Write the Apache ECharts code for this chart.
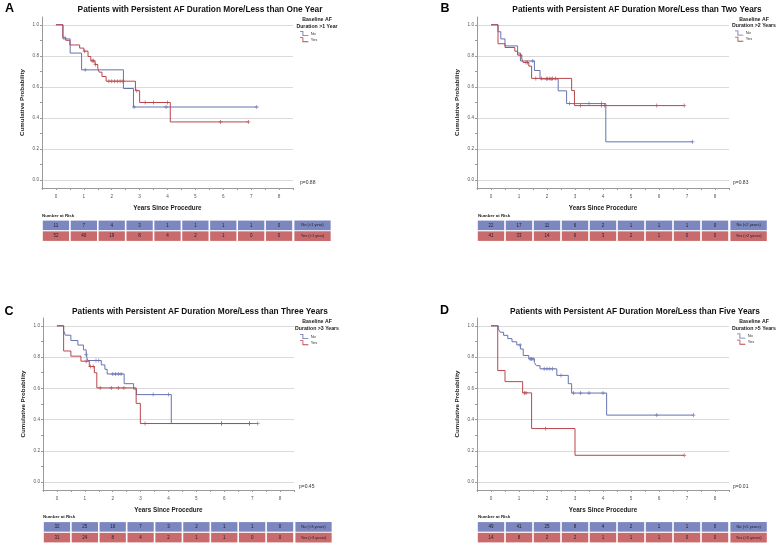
<!DOCTYPE html>
<html><head><meta charset="utf-8">
<script src="https://cdn.jsdelivr.net/npm/echarts@6/dist/echarts.min.js"></script>
<style>html,body{margin:0;padding:0;background:#fff}#c{width:780px;height:555px}</style>
</head><body><div id="c"></div><script>
// ---------- data ----------
const yearTicks = [0, 1, 2, 3, 4, 5, 6, 7, 8];
const probLabels = [0, 0.2, 0.4, 0.6, 0.8, 1.0];
const probMinor = [0.1, 0.3, 0.5, 0.7, 0.9];

const panelLetters = ['A', 'B', 'C', 'D'];
const panelTitles = [
  'Patients with Persistent AF Duration More/Less than One Year',
  'Patients with Persistent AF Duration More/Less than Two Years',
  'Patients with Persistent AF Duration More/Less than Three Years',
  'Patients with Persistent AF Duration More/Less than Five Years'
];
const legendHead1 = 'Baseline AF';
const legendHead2 = ['Duration >1 Year', 'Duration >2 Years', 'Duration >3 Years', 'Duration >5 Years'];
const groupNames = ['No', 'Yes'];
const pValues = ['p=0.88', 'p=0.83', 'p=0.45', 'p=0.01'];
const riskRowNo = ['No (<1 year)', 'No (<2 years)', 'No (<3 years)', 'No (<5 years)'];
const riskRowYes = ['Yes (>1 year)', 'Yes (>2 years)', 'Yes (>3 years)', 'Yes (>5 years)'];

// Panel A
const timeNoA = [0, 0.25, 0.51, 0.92, 2.42, 2.78, 7.2];
const survNoA = [1, 0.909, 0.818, 0.71, 0.59, 0.471, 0.471];
const censNoA = [1.05, 2.8, 3.95, 7.2];
const timeYesA = [0, 0.25, 0.35, 0.5, 0.85, 1.0, 1.15, 1.25, 1.4, 1.5, 1.55, 1.65, 1.8, 2.85, 3.0, 4.1, 6.9];
const survYesA = [1, 0.92, 0.90, 0.87, 0.85, 0.83, 0.796, 0.768, 0.745, 0.72, 0.695, 0.667, 0.637, 0.576, 0.50, 0.375, 0.375];
const censYesA = [1.03, 1.3, 1.35, 1.42, 1.9, 2.0, 2.1, 2.2, 2.3, 2.4, 2.9, 3.2, 3.5, 4.0, 5.9, 6.9];
const riskNoA = [11, 7, 4, 3, 1, 1, 1, 1, 0];
const riskYesA = [52, 40, 19, 8, 4, 2, 1, 0, 0];

// Panel B
const timeNoB = [0, 0.25, 0.35, 0.5, 0.95, 1.05, 1.55, 1.75, 2.4, 2.7, 4.1, 7.2];
const survNoB = [1, 0.955, 0.909, 0.864, 0.818, 0.767, 0.706, 0.651, 0.575, 0.493, 0.247, 0.247];
const censNoB = [1.49, 2.0, 2.15, 2.8, 3.5, 3.95, 7.2];
const timeYesB = [0, 0.25, 0.5, 0.85, 0.95, 1.1, 1.15, 1.35, 1.45, 2.88, 2.98, 6.9];
const survYesB = [1, 0.878, 0.854, 0.83, 0.805, 0.78, 0.757, 0.734, 0.655, 0.577, 0.48, 0.48];
const censYesB = [1.05, 1.25, 1.3, 1.6, 1.8, 2.0, 2.1, 2.2, 2.3, 3.2, 3.95, 4.05, 5.92, 6.9];
const riskNoB = [22, 17, 11, 6, 2, 1, 1, 1, 0];
const riskYesB = [41, 33, 14, 6, 3, 2, 1, 0, 0];

// Panel C
const timeNoC = [0, 0.24, 0.3, 0.5, 0.75, 0.95, 1.05, 1.1, 1.59, 1.72, 1.8, 2.41, 2.75, 2.85, 4.1, 7.2];
const survNoC = [1, 0.969, 0.94, 0.906, 0.877, 0.846, 0.815, 0.778, 0.75, 0.722, 0.692, 0.63, 0.595, 0.56, 0.375, 0.375];
const censNoC = [1.05, 1.4, 1.5, 2.0, 2.1, 2.2, 2.3, 3.45, 4.0, 5.9, 6.9, 7.2];
const timeYesC = [0, 0.24, 0.5, 0.86, 1.16, 1.34, 1.43, 2.84, 2.99, 6.9];
const survYesC = [1, 0.839, 0.806, 0.774, 0.74, 0.70, 0.603, 0.504, 0.375, 0.375];
const censYesC = [1.05, 1.2, 1.3, 1.55, 1.95, 2.2, 2.4, 3.16, 5.9, 6.9];
const riskNoC = [32, 25, 16, 7, 3, 2, 1, 1, 0];
const riskYesC = [31, 24, 8, 4, 2, 1, 1, 0, 0];

// Panel D
const timeNoD = [0, 0.26, 0.33, 0.45, 0.6, 0.75, 0.92, 1.05, 1.15, 1.35, 1.55, 1.62, 1.75, 2.35, 2.76, 2.88, 4.13, 7.23];
const survNoD = [1, 0.98, 0.959, 0.939, 0.918, 0.898, 0.878, 0.852, 0.81, 0.788, 0.765, 0.745, 0.725, 0.683, 0.63, 0.57, 0.429, 0.429];
const censNoD = [1.04, 1.4, 1.45, 1.5, 1.9, 2.0, 2.1, 2.2, 2.5, 2.95, 3.2, 3.5, 4.0, 5.92, 7.23];
const timeYesD = [0, 0.24, 0.5, 1.13, 1.45, 3.0, 6.9];
const survYesD = [1, 0.714, 0.643, 0.571, 0.343, 0.172, 0.172];
const censYesD = [1.2, 1.25, 1.95, 6.9];
const riskNoD = [49, 41, 25, 8, 4, 2, 1, 1, 0];
const riskYesD = [14, 8, 2, 2, 1, 1, 1, 0, 0];

// ---------- layout / style ----------
const FONT = 'Liberation Sans, Arial, sans-serif';
const BLUE = '#6672b3', RED = '#b7474d';
const BLUE_FILL = '#7c87bf', RED_FILL = '#c96b6d';
const LABEL_COL = 9.2;
const layout = [
  {l: 42, t: 17, w: 251, h: 171, tt: 220, letter: [9.5, 9], title: [200, 10], lh: [317, 20, 27], lg: [300, 31], p: [300, 183], nar: [42, 216]},
  {l: 477, t: 17, w: 252, h: 171, tt: 220, letter: [445, 8.5], title: [637, 10], lh: [754, 19.5, 26], lg: [735, 30.5], p: [733, 182.5], nar: [478, 216]},
  {l: 43, t: 318, w: 251, h: 172, tt: 521.5, letter: [9, 312], title: [200, 312], lh: [317, 322, 329], lg: [300, 334], p: [299, 487], nar: [43, 517]},
  {l: 477, t: 318, w: 252, h: 172, tt: 521.5, letter: [444.5, 311], title: [635, 312], lh: [754, 322, 328.5], lg: [737, 333.5], p: [733, 487], nar: [478, 517]}
];

const panels = [
  {no: [timeNoA, survNoA, censNoA], yes: [timeYesA, survYesA, censYesA], risk: [riskNoA, riskYesA]},
  {no: [timeNoB, survNoB, censNoB], yes: [timeYesB, survYesB, censYesB], risk: [riskNoB, riskYesB]},
  {no: [timeNoC, survNoC, censNoC], yes: [timeYesC, survYesC, censYesC], risk: [riskNoC, riskYesC]},
  {no: [timeNoD, survNoD, censNoD], yes: [timeYesD, survYesD, censYesD], risk: [riskNoD, riskYesD]}
];

function survAt(ts, ss, t) {
  let v = ss[0];
  for (let i = 0; i < ts.length; i++) if (ts[i] <= t + 1e-9) v = ss[i];
  return v;
}
const CENSOR = 'path://M4,0h2v10h-2zM0,4h10v2h-10z';
const LEGEND_ICON = 'path://M0,0H4V5H10V6H3V1H0Z';

const grids = [], xAxes = [], yAxes = [], series = [], legends = [], gfx = [];
panels.forEach((pn, i) => {
  const L = layout[i];
  const ppy = L.w / 9;
  const gPlot = grids.length;
  grids.push({left: L.l, top: L.t, width: L.w, height: L.h});
  const gTab = grids.length;
  grids.push({left: L.l, top: L.tt, width: ppy * 10.35, height: 21.5});

  const xPlot = xAxes.length;
  xAxes.push({
    gridIndex: gPlot, type: 'value', min: -0.5, max: 8.5, interval: 0.5,
    axisLine: {show: true, onZero: false, lineStyle: {color: '#9a9a9a', width: 1}},
    axisTick: {show: true, length: 2, lineStyle: {color: '#9a9a9a'}},
    axisLabel: {formatter: v => (yearTicks.indexOf(v) >= 0 ? String(v) : ''), fontSize: 4.6, color: '#555', margin: 6, fontFamily: FONT},
    splitLine: {show: false},
    name: 'Years Since Procedure', nameLocation: 'middle', nameGap: 17,
    nameTextStyle: {fontSize: 6.3, fontWeight: 'bold', color: '#222', fontFamily: FONT}
  });
  const xTab = xAxes.length;
  xAxes.push({gridIndex: gTab, type: 'value', min: -0.5, max: 9.85, show: false});

  const yMain = yAxes.length;
  yAxes.push({
    gridIndex: gPlot, type: 'value', min: -0.05, max: 1.05,
    axisLine: {show: true, onZero: false, lineStyle: {color: '#9a9a9a', width: 1}},
    axisTick: {show: true, length: 2, customValues: probLabels, lineStyle: {color: '#9a9a9a'}},
    axisLabel: {customValues: probLabels, formatter: v => v.toFixed(1), fontSize: 4.6, color: '#555', margin: 3, fontFamily: FONT},
    splitLine: {show: true, lineStyle: {color: '#dadada', width: 1}},
    name: 'Cumulative Probability', nameLocation: 'middle', nameGap: 17,
    nameTextStyle: {fontSize: 6.2, fontWeight: 'bold', color: '#222', fontFamily: FONT}
  });
  yAxes.push({
    gridIndex: gPlot, type: 'value', min: -0.05, max: 1.05, position: 'left',
    axisLine: {show: false, onZero: false},
    axisTick: {show: true, length: 2, customValues: probMinor, lineStyle: {color: '#9a9a9a'}},
    axisLabel: {show: false}, splitLine: {show: false}
  });
  const yTab = yAxes.length;
  yAxes.push({gridIndex: gTab, type: 'category', data: ['Yes', 'No'], show: false});

  [[pn.no, BLUE, 'No'], [pn.yes, RED, 'Yes']].forEach(([c, col, nm]) => {
    const [ts, ss, cs] = c;
    series.push({
      name: nm, type: 'line', step: 'end', xAxisIndex: xPlot, yAxisIndex: yMain,
      data: ts.map((t, k) => [t, ss[k]]), symbol: 'none',
      lineStyle: {color: col, width: 1}, itemStyle: {color: col}, z: 3
    });
    series.push({
      name: nm + ' censored', type: 'scatter', xAxisIndex: xPlot, yAxisIndex: yMain,
      data: cs.map(t => [t, survAt(ts, ss, t)]), symbol: CENSOR, symbolSize: 4,
      itemStyle: {color: col}, z: 4
    });
  });

  // risk table
  const texts = [], tdata = [];
  pn.risk.forEach((arr, r) => {
    const row = r === 0 ? 1 : 0;
    arr.forEach((v, k) => { tdata.push([yearTicks[k], row]); texts.push(String(v)); });
    tdata.push([LABEL_COL, row]); texts.push(r === 0 ? riskRowNo[i] : riskRowYes[i]);
  });
  series.push({
    type: 'custom', xAxisIndex: xTab, yAxisIndex: yTab, data: tdata,
    renderItem: (params, api) => {
      const x = api.value(0), row = api.value(1);
      const c = api.coord([x, row]);
      const sz = api.size([1, 1]);
      const isLab = x > 8.5;
      const w = isLab ? sz[0] * 1.3 : sz[0] - 1.6;
      const h = sz[1] - 1.2;
      return {type: 'group', children: [
        {type: 'rect', shape: {x: c[0] - w / 2, y: c[1] - h / 2, width: w, height: h},
         style: {fill: row === 1 ? BLUE_FILL : RED_FILL}},
        {type: 'text', style: {text: texts[params.dataIndex], x: c[0], y: c[1], align: 'center', verticalAlign: 'middle',
         fontSize: isLab ? 4 : 4.5, fill: '#1e1e2a', fontFamily: FONT}}
      ]};
    }
  });

  legends.push({
    left: L.lg[0], top: L.lg[1], orient: 'vertical', itemWidth: 9, itemHeight: 5, itemGap: 1.2, padding: 0,
    data: groupNames, icon: LEGEND_ICON, selectedMode: false,
    textStyle: {fontSize: 4, color: '#333', fontFamily: FONT, padding: [0, 0, 0, -3]}
  });

  const txt = (x, y, text, size, weight, align, color) => ({
    type: 'text', x: x, y: y, silent: true,
    style: {text: text, fontSize: size, fontWeight: weight, fontFamily: FONT, fill: color || '#111',
      align: align, verticalAlign: 'middle', textAlign: align, textVerticalAlign: 'middle'}
  });
  gfx.push(txt(L.letter[0], L.letter[1], panelLetters[i], 12.5, 'bold', 'center', '#000'));
  gfx.push(txt(L.title[0], L.title[1], panelTitles[i], 8.3, 'bold', 'center', '#111'));
  gfx.push(txt(L.lh[0], L.lh[1], legendHead1, 5.2, 'bold', 'center', '#222'));
  gfx.push(txt(L.lh[0], L.lh[2], legendHead2[i], 5.2, 'bold', 'center', '#222'));
  gfx.push(txt(L.p[0], L.p[1], pValues[i], 5, 'normal', 'left', '#333'));
  gfx.push(txt(L.nar[0], L.nar[1], 'Number at Risk', 4.4, 'bold', 'left', '#222'));
});

const chart = echarts.init(document.getElementById('c'), null, {renderer: 'canvas'});
chart.setOption({
  backgroundColor: '#fff',
  animation: false,
  textStyle: {fontFamily: FONT},
  grid: grids, xAxis: xAxes, yAxis: yAxes, series: series, legend: legends,
  tooltip: {show: false},
  graphic: {elements: gfx}
});
</script></body></html>
